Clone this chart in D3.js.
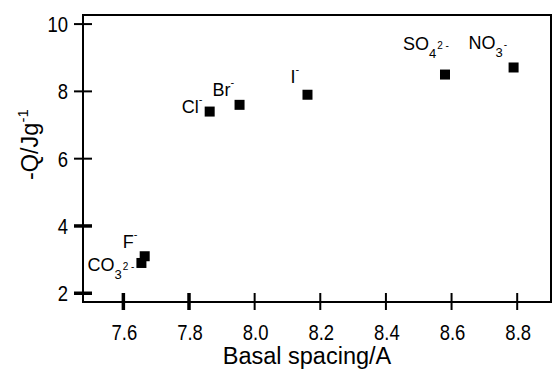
<!DOCTYPE html>
<html>
<head>
<meta charset="utf-8">
<script src="https://cdn.jsdelivr.net/npm/d3@7"></script>
<style>
  body { margin: 0; background: #fff; }
  text { font-family: Arial, "Liberation Sans", sans-serif; fill: #000; }
  .tick-label { font-size: 22px; }
  .axis-label { font-size: 23.5px; }
  .ion { font-size: 18px; }
</style>
</head>
<body>
<script>
// basal spacing (A) vs heat (-Q, J/g)
var ions = ["CO3", "F", "Cl", "Br", "I", "SO4", "NO3"];
var spacing = [7.655, 7.665, 7.863, 7.954, 8.161, 8.58, 8.789];
var heat = [2.9, 3.1, 7.4, 7.6, 7.9, 8.5, 8.71];

// label pieces: [text, kind]
var ionLabels = [
  [["CO", "b"], ["3", "sub"], ["2 -", "sup2"]],
  [["F", "b"], ["-", "sup"]],
  [["Cl", "b"], ["-", "sup"]],
  [["Br", "b"], ["-", "sup"]],
  [["I", "b"], ["-", "sup"]],
  [["SO", "b"], ["4", "sub"], ["2 -", "sup2"]],
  [["NO", "b"], ["3", "sub"], ["-", "sup2"]]
];
// where each label sits relative to its square (px)
var labelOffset = [[-54, 8], [-22, -8], [-28, 1], [-27, -9], [-17, -12], [-42, -25], [-45, -18]];

var xTicks = [7.6, 7.8, 8.0, 8.2, 8.4, 8.6, 8.8];
var yTicks = [2, 4, 6, 8, 10];

var margin = {top: 15, right: 6, bottom: 70, left: 83},
    outerWidth = 557,
    outerHeight = 372,
    innerWidth = outerWidth - margin.left - margin.right,
    innerHeight = outerHeight - margin.top - margin.bottom;

var svg = d3.select("body").append("svg")
    .attr("width", outerWidth)
    .attr("height", outerHeight);

var plot = svg.append("g")
    .attr("transform", "translate(" + margin.left + "," + margin.top + ")");

var xScale = d3.scaleLinear().domain([7.477, 8.903]).range([0, innerWidth]);
var yScale = d3.scaleLinear().domain([1.74, 10.27]).range([innerHeight, 0]);

// frame
plot.append("rect")
    .attr("width", innerWidth)
    .attr("height", innerHeight)
    .attr("fill", "none")
    .attr("stroke", "#000")
    .attr("stroke-width", 2);

// tick numbers are a bit narrow in the original
var squeeze = 0.84;

// x axis: ticks cross the frame line
var xg = plot.append("g").attr("transform", "translate(0," + innerHeight + ")");
xg.selectAll("line").data(xTicks).enter().append("line")
    .attr("x1", d => xScale(d)).attr("x2", d => xScale(d))
    .attr("y1", -9).attr("y2", 8)
    .attr("stroke", "#000")
    .attr("stroke-width", (d, i) => i < 2 ? 3.5 : 2);
xg.selectAll("text").data(xTicks).enter().append("text")
    .attr("class", "tick-label")
    .attr("transform", d => "translate(" + (xScale(d) + 1) + ",38) scale(" + squeeze + ",1)")
    .attr("text-anchor", "middle")
    .text(d => d3.format(".1f")(d));

xg.append("text")
    .attr("class", "axis-label")
    .attr("x", innerWidth / 2 - 10)
    .attr("y", 62)
    .attr("text-anchor", "middle")
    .text("Basal spacing/A");

// y axis
var yg = plot.append("g");
yg.selectAll("line").data(yTicks).enter().append("line")
    .attr("y1", d => yScale(d)).attr("y2", d => yScale(d))
    .attr("x1", -9).attr("x2", 9)
    .attr("stroke", "#000")
    .attr("stroke-width", (d, i) => i < 2 ? 3.5 : 2);
yg.selectAll("text").data(yTicks).enter().append("text")
    .attr("class", "tick-label")
    .attr("transform", d => "translate(-15," + yScale(d) + ") scale(" + squeeze + ",1)")
    .attr("dy", "0.36em")
    .attr("text-anchor", "end")
    .text(d => d);

var ylab = yg.append("text")
    .attr("class", "axis-label")
    .attr("text-anchor", "middle")
    .attr("transform", "translate(" + (-45) + "," + (yScale(6) - 14) + ") rotate(-90)");
ylab.append("tspan").text("-Q/Jg");
ylab.append("tspan").attr("font-size", "15px").attr("dy", -10).text("-1");

// points
plot.selectAll(".pt").data(spacing).enter().append("rect")
    .attr("class", "pt")
    .attr("x", (d, i) => xScale(d) - 5)
    .attr("y", (d, i) => yScale(heat[i]) - 5)
    .attr("width", 10)
    .attr("height", 10)
    .attr("fill", "#000");

// ion labels
ionLabels.forEach((parts, i) => {
    var px = xScale(spacing[i]) + labelOffset[i][0];
    var py = yScale(heat[i]) + labelOffset[i][1];
    var t = plot.append("text").attr("class", "ion").attr("x", px).attr("y", py);
    var level = 0;
    parts.forEach(p => {
        var target = 0, size = 18;
        if (p[1] == "sub") { target = 8; size = 13; }
        if (p[1] == "sup") { target = -10; size = 11; }
        if (p[1] == "sup2") { target = -1; size = 10; }
        var s = t.append("tspan").attr("font-size", size + "px").text(p[0]);
        if (target != level) s.attr("dy", target - level);
        if (p[1] == "sup2") s.attr("dx", 1);
        level = target;
    });
});
</script>
</body>
</html>
